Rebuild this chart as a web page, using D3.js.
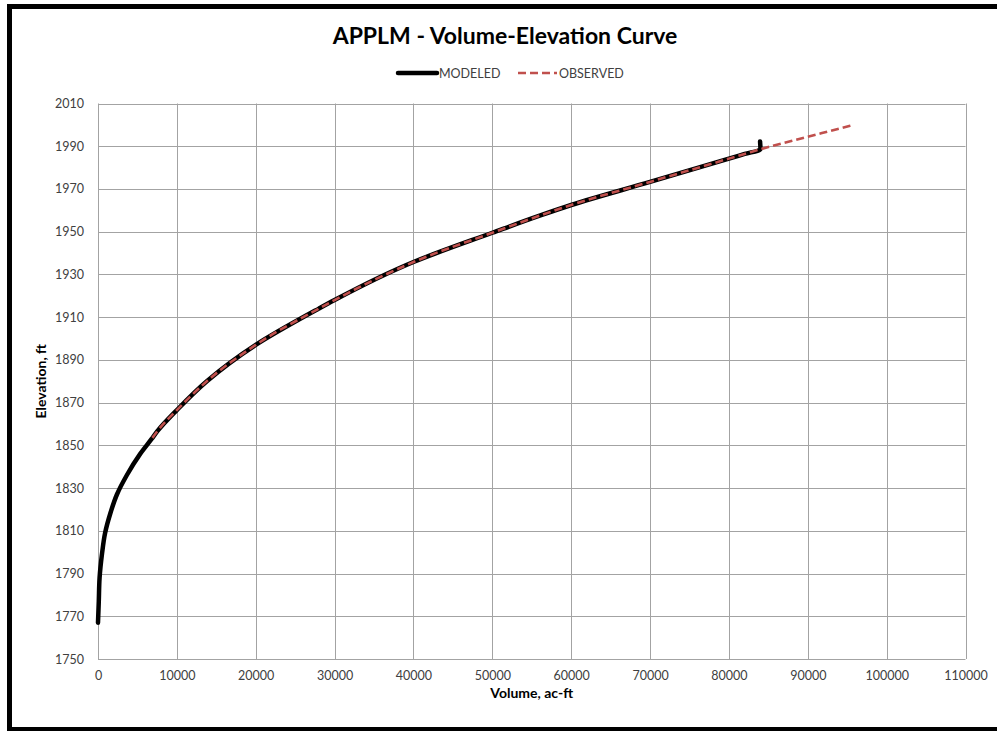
<!DOCTYPE html>
<html>
<head>
<meta charset="utf-8">
<script src="https://cdn.jsdelivr.net/npm/d3@7"></script>
<style>
  html, body { margin: 0; padding: 0; background: #fff; overflow: hidden; }
  svg { display: block; }
</style>
</head>
<body>
<svg id="chart" width="997" height="731"></svg>
<script>
// Volume (ac-ft) and elevation (ft) pairs for the modeled curve
const modeledVolume = [0, 100, 200, 500, 900, 1550, 2400, 3650, 5350, 6800, 7500, 10000, 13800, 20000, 28000, 30000, 40000, 50000, 56000, 60000, 70000, 80000, 82000, 84000, 83950];
const modeledElev   = [1767, 1777, 1788, 1799, 1809, 1818, 1827, 1836, 1846, 1853, 1856.5, 1866.5, 1880, 1897, 1914, 1918, 1935.8, 1949.5, 1957.5, 1962.5, 1973.3, 1984.2, 1986.4, 1988.6, 1992.2];

// Observed survey pairs
const observedVolume = [6900, 7500, 10000, 13800, 20000, 28000, 30000, 40000, 50000, 56000, 60000, 70000, 80000, 82000, 84000, 90000, 95800];
const observedElev   = [1853.5, 1856.5, 1866.5, 1880, 1897, 1914, 1918, 1935.8, 1949.5, 1957.5, 1962.5, 1973.3, 1984.2, 1986.4, 1988.6, 1994.4, 2000];

const xTicks = [0, 10000, 20000, 30000, 40000, 50000, 60000, 70000, 80000, 90000, 100000, 110000];
const yTicks = [1750, 1770, 1790, 1810, 1830, 1850, 1870, 1890, 1910, 1930, 1950, 1970, 1990, 2010];

const seriesNames = ["MODELED", "OBSERVED"];
const chartTitle = "APPLM - Volume-Elevation Curve";

const svg = d3.select("#chart");
const font = "Lato, 'Open Sans', sans-serif";

// Outer frame (right side runs past the page edge)
svg.append("rect")
  .attr("x", 9.5).attr("y", 6.5)
  .attr("width", 1040).attr("height", 723)
  .attr("fill", "#fff")
  .attr("stroke", "#000").attr("stroke-width", 5);

const x = d3.scaleLinear().domain([0, 110000]).range([98, 965.5]);
const y = d3.scaleLinear().domain([1750, 2010]).range([659, 103.5]);

// Gridlines
const grid = svg.append("g").attr("stroke", "#a3a3a3").attr("stroke-width", 1);
grid.selectAll("line.v").data(xTicks).join("line")
  .attr("x1", d => Math.round(x(d)) + 0.5).attr("x2", d => Math.round(x(d)) + 0.5)
  .attr("y1", y(2010)).attr("y2", y(1750));
grid.selectAll("line.h").data(yTicks).join("line")
  .attr("x1", x(0)).attr("x2", x(110000))
  .attr("y1", d => Math.round(y(d)) + 0.5).attr("y2", d => Math.round(y(d)) + 0.5);

// Axes (labels only; lines come from the grid)
const xAxis = svg.append("g")
  .attr("transform", `translate(0,${y(1750)})`)
  .call(d3.axisBottom(x).tickValues(xTicks).tickFormat(d3.format("d")).tickSize(0).tickPadding(12));
const yAxis = svg.append("g")
  .attr("transform", `translate(${x(0)},0)`)
  .call(d3.axisLeft(y).tickValues(yTicks).tickFormat(d3.format("d")).tickSize(0).tickPadding(14));
[xAxis, yAxis].forEach(a => {
  a.select(".domain").remove();
  a.selectAll("text").attr("font-family", font).attr("font-size", 12.5).attr("fill", "#404040");
});

// Series
const modeled = modeledVolume.map((v, i) => [v, modeledElev[i]]);
const observed = observedVolume.map((v, i) => [v, observedElev[i]]);
const modeledLine = d3.line().x(d => x(d[0])).y(d => y(d[1])).curve(d3.curveMonotoneY);
const observedLine = d3.line().x(d => x(d[0])).y(d => y(d[1])).curve(d3.curveMonotoneX);

svg.append("path").datum(modeled)
  .attr("d", modeledLine)
  .attr("fill", "none").attr("stroke", "#000")
  .attr("stroke-width", 4.5).attr("stroke-linecap", "round").attr("stroke-linejoin", "round");

svg.append("path").datum(observed)
  .attr("d", observedLine)
  .attr("fill", "none").attr("stroke", "#c0504d")
  .attr("stroke-width", 2.6).attr("stroke-dasharray", "8,4");

// Title
svg.append("text")
  .attr("x", 505).attr("y", 44)
  .attr("text-anchor", "middle")
  .attr("font-family", font).attr("font-weight", "bold").attr("font-size", 23)
  .attr("fill", "#000")
  .text(chartTitle);

// Legend
const legend = svg.append("g").attr("font-family", font).attr("font-size", 12.5).attr("fill", "#404040");
legend.append("line").attr("x1", 398).attr("x2", 437).attr("y1", 73).attr("y2", 73)
  .attr("stroke", "#000").attr("stroke-width", 4.5).attr("stroke-linecap", "round");
legend.append("text").attr("x", 439).attr("y", 77.5).text(seriesNames[0]);
legend.append("line").attr("x1", 518).attr("x2", 557).attr("y1", 73).attr("y2", 73)
  .attr("stroke", "#c0504d").attr("stroke-width", 2.6).attr("stroke-dasharray", "8,4");
legend.append("text").attr("x", 559).attr("y", 77.5).text(seriesNames[1]);

// Axis titles
svg.append("text")
  .attr("x", (x(0) + x(110000)) / 2).attr("y", 698)
  .attr("text-anchor", "middle")
  .attr("font-family", font).attr("font-weight", "bold").attr("font-size", 14)
  .attr("fill", "#000")
  .text("Volume, ac-ft");
svg.append("text")
  .attr("transform", `translate(46,${(y(1750) + y(2010)) / 2}) rotate(-90)`)
  .attr("text-anchor", "middle")
  .attr("font-family", font).attr("font-weight", "bold").attr("font-size", 14)
  .attr("fill", "#000")
  .text("Elevation, ft");
</script>
</body>
</html>
